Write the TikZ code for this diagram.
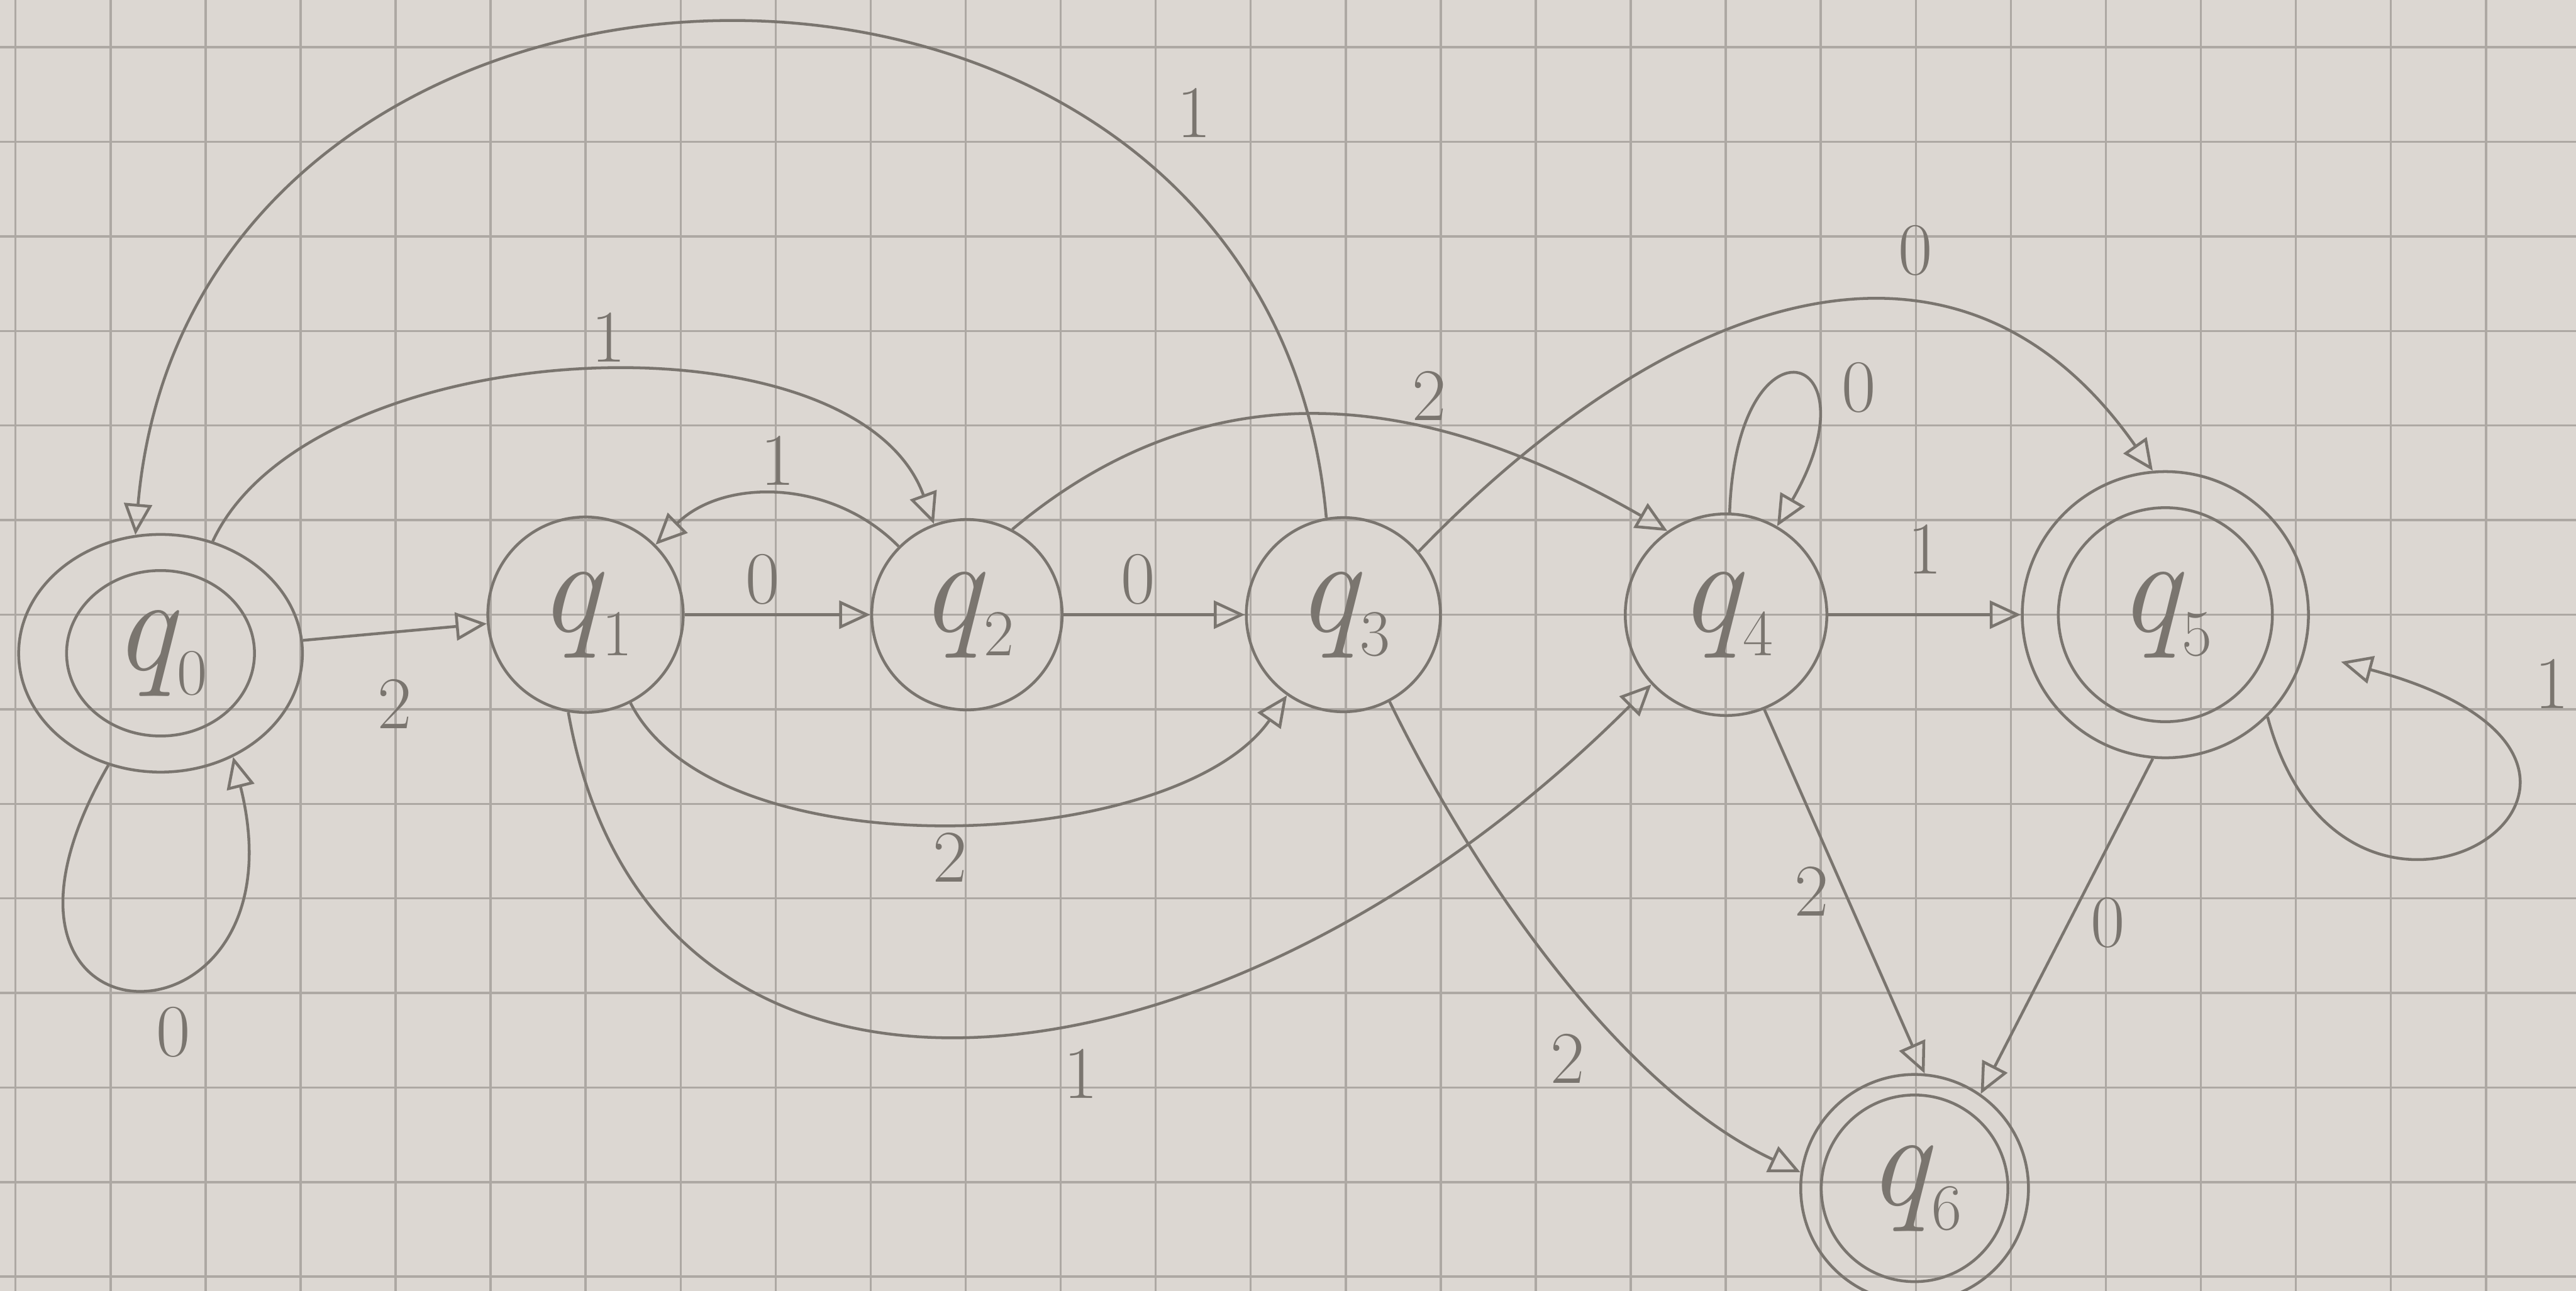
\documentclass[tikz,border=0pt]{standalone}
\usepackage{xcolor}
\usepackage{tikz}
\usetikzlibrary{arrows.meta,positioning,shapes.geometric}
\definecolor{paper}{HTML}{DCD7D2}
\definecolor{gridc}{HTML}{ADA8A3}
\definecolor{pencil}{HTML}{7A756F}
\newcommand{\qst}[1]{\textit{q}\kern-1pt\raisebox{-0.18em}{\fontsize{30}{30}\selectfont #1}}
\tikzset{
  pen/.style={draw=pencil,line width=1.3pt},
  st/.style={pen,circle,inner sep=0pt,font=\fontsize{62}{70}\selectfont,text=pencil},
  arr/.style={pen,-{Triangle[open,length=5mm,width=4.5mm]}},
  lbl/.style={font=\fontsize{34}{40}\selectfont,text=pencil,inner sep=1pt},
  gridln/.style={draw=gridc,line width=1pt},
}

\begin{document}
\begin{tikzpicture}[on grid]
\fill[paper] (0,0) rectangle (41.4,-20.75);
\useasboundingbox (0,0) rectangle (41.4,-20.75);
\foreach \i in {0,...,26} \draw[gridln] (0.25+1.527*\i,0) -- (0.25+1.527*\i,-20.75);
\foreach \j in {0,...,13} \draw[gridln] (0,-0.76-1.52*\j) -- (41.4,-0.76-1.52*\j);
\node[st,shape=ellipse,minimum width=4.56cm,minimum height=3.82cm] (q0) at (2.58,-10.5) {\qst{0}};
\node[st,minimum size=3.14cm,above right=0.62cm and 6.83cm of q0] (q1) {\qst{1}};
\node[st,minimum size=3.06cm,right=6.13cm of q1] (q2) {\qst{2}};
\node[st,minimum size=3.12cm,right=6.05cm of q2] (q3) {\qst{3}};
\node[st,minimum size=3.24cm,right=6.15cm of q3] (q4) {\qst{4}};
\node[st,minimum size=4.6cm,right=7.06cm of q4] (q5) {\qst{5}};
\node[st,minimum size=3.66cm,below right=9.22cm and 3.03cm of q4] (q6) {\qst{6}};
\draw[pen] (q0.center) ellipse[x radius=1.51,y radius=1.33];
\draw[pen] (q5.center) circle[radius=1.72];
\draw[pen] (q6.center) circle[radius=1.5];
\draw[arr](q0)--node[lbl,below=7mm]{2}(q1);
\draw[arr](q0.-115)..controls +(-120:5.5) and +(-76:5.1)..node[lbl,pos=.6,below=4mm]{0}(q0.-55);
\draw[arr](q0) to[out=65,in=110,looseness=.82] node[lbl,pos=.53,above=1mm]{1} (q2);
\draw[arr](q3.100)..controls +(95:10.8) and +(85:10.8)..node[lbl,pos=.25,right=8mm,yshift=5mm]{1}(q0.102);
\draw[arr](q1)--node[lbl,pos=.42,above=1mm]{0}(q2);
\draw[arr](q2) to[bend right=45] node[lbl,above=1mm]{1} (q1);
\draw[arr](q2)--node[lbl,pos=.41,above=1mm]{0}(q3);
\draw[arr](q1) to[out=-63,in=-125,looseness=.75] node[lbl,below=1mm]{2} (q3);
\draw[arr](q1.-100)..controls +(-80:7.6) and +(-135:9.8)..node[lbl,pos=.58,below=4mm]{1}(q4.-137);
\draw[arr](q2.62)..controls +(40:4.3) and +(150:4.3)..node[lbl,pos=.65,above=1mm]{2}(q4.125);
\draw[arr](q3.40)..controls +(46:5.6) and +(125:5.6)..node[lbl,pos=.65,above=4.5mm]{0}(q5.95);
\draw[arr](q4) to[out=88,in=60,distance=3.3cm] node[lbl,pos=.7,right=4mm,yshift=3mm]{0} (q4);
\draw[arr](q4)--node[lbl,above=6mm]{1}(q5);
\draw[arr,shorten >=6mm](q5.-45)..controls +(-75:5) and +(-15:7)..node[lbl,pos=.75,right=7mm,yshift=11mm]{1}(q5.-15);
\draw[arr](q4.-68)--node[lbl,left=2mm]{2}(q6.85);
\draw[arr](q3.-62)..controls +(-64:3.5) and +(155:3)..node[lbl,below=8mm]{2}(q6.172);
\draw[arr](q5.-95)--node[lbl,pos=.49,right=3mm]{0}(q6.55);
\end{tikzpicture}
\end{document}
